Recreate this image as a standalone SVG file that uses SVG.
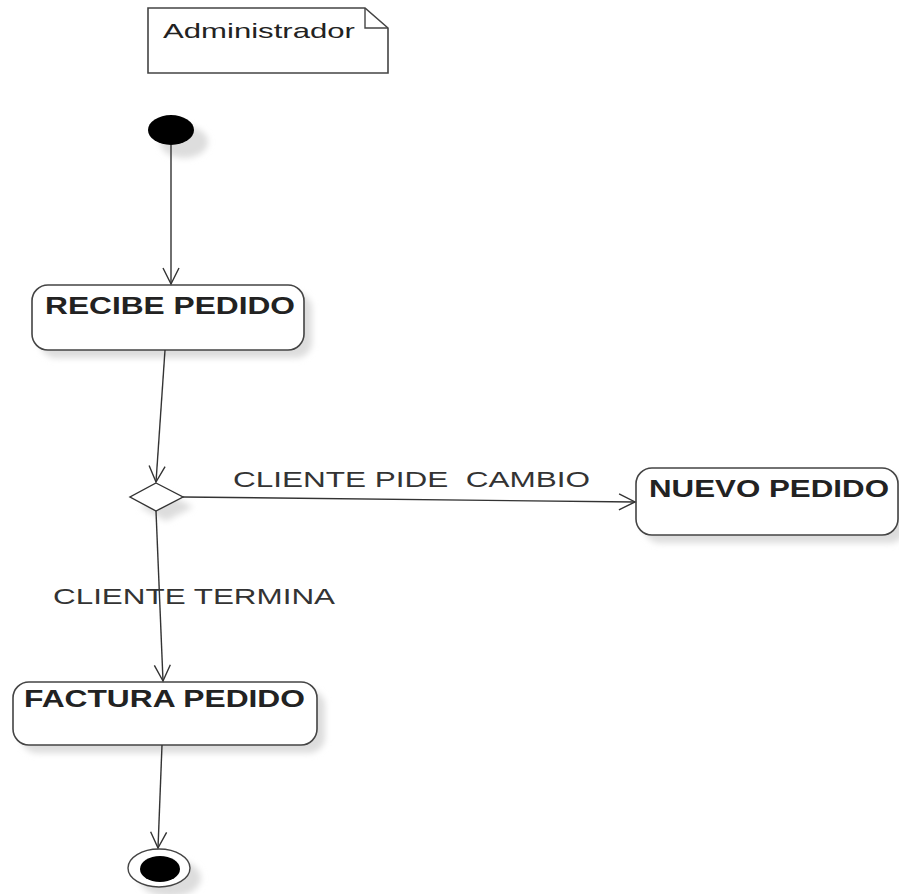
<svg xmlns="http://www.w3.org/2000/svg" width="899" height="894" viewBox="0 0 899 894">
  <style>
    .state { fill: #ffffff; stroke: #444444; stroke-width: 1.6; }
    .shadow { fill: #dddddd; filter: url(#soft); }
    .lbl { font-family: "Liberation Sans", Arial, sans-serif; fill: #222222; }
    .bold { font-weight: bold; font-size: 23px; }
    .plain { font-size: 22px; fill: #333333; }
    .edge { fill: none; stroke: #333333; stroke-width: 1.4; }
    .head { fill: none; stroke: #333333; stroke-width: 1.4; }
  </style>
  <defs>
    <filter id="soft" x="-20%" y="-20%" width="140%" height="140%">
      <feGaussianBlur stdDeviation="3"/>
    </filter>
    <marker id="open" viewBox="0 0 20 20" refX="18" refY="10" markerWidth="20" markerHeight="20" markerUnits="userSpaceOnUse" orient="auto">
      <path d="M2,2 L18,10 L2,18" class="head"/>
    </marker>
  </defs>

  <!-- note -->
  <g id="note">
    <path d="M148,8 L365,8 L388,28 L388,73 L148,73 Z" fill="#ffffff" stroke="#444444" stroke-width="1.6"/>
    <path d="M365,8 L365,28 L388,28" fill="none" stroke="#444444" stroke-width="1.4"/>
    <text class="lbl" x="163" y="38" font-size="21" fill="#333333" textLength="192" lengthAdjust="spacingAndGlyphs">Administrador</text>
  </g>

  <!-- initial pseudo-state -->
  <g id="start">
    <ellipse class="shadow" cx="184" cy="142" rx="24" ry="16"/>
    <ellipse cx="171" cy="130" rx="23" ry="15" fill="#000000"/>
  </g>

  <!-- RECIBE PEDIDO -->
  <g id="recibe">
    <rect class="shadow" x="40" y="293" width="272" height="65" rx="16"/>
    <rect class="state" x="32" y="285" width="272" height="65" rx="16"/>
    <text class="lbl bold" x="45" y="314" textLength="250" lengthAdjust="spacingAndGlyphs">RECIBE PEDIDO</text>
  </g>

  <!-- decision -->
  <g id="decision">
    <path class="shadow" d="M166,493 L193,507 L166,521 L140,507 Z"/>
    <path d="M156,483 L183,497 L156,511 L130,497 Z" fill="#ffffff" stroke="#333333" stroke-width="1.4"/>
  </g>

  <!-- NUEVO PEDIDO -->
  <g id="nuevo">
    <rect class="shadow" x="644" y="476" width="262" height="67" rx="16"/>
    <rect class="state" x="636" y="468" width="262" height="67" rx="16"/>
    <text class="lbl bold" x="649" y="497" textLength="240" lengthAdjust="spacingAndGlyphs">NUEVO PEDIDO</text>
  </g>

  <!-- FACTURA PEDIDO -->
  <g id="factura">
    <rect class="shadow" x="21" y="690" width="304" height="63" rx="16"/>
    <rect class="state" x="13" y="682" width="304" height="63" rx="16"/>
    <text class="lbl bold" x="24" y="707" textLength="281" lengthAdjust="spacingAndGlyphs">FACTURA PEDIDO</text>
  </g>

  <!-- final state -->
  <g id="end">
    <ellipse class="shadow" cx="170" cy="878" rx="31" ry="19"/>
    <ellipse cx="159" cy="868" rx="31" ry="19" fill="#ffffff" stroke="#444444" stroke-width="1.4"/>
    <ellipse cx="160" cy="869" rx="20" ry="13" fill="#000000"/>
  </g>

  <!-- transitions -->
  <g id="connectors">
    <line class="edge" x1="171" y1="145" x2="171" y2="284" marker-end="url(#open)"/>
    <line class="edge" x1="165" y1="350" x2="156" y2="482" marker-end="url(#open)"/>
    <line class="edge" x1="183" y1="497" x2="635" y2="502" marker-end="url(#open)"/>
    <line class="edge" x1="156" y1="511" x2="163" y2="681" marker-end="url(#open)"/>
    <line class="edge" x1="162" y1="745" x2="158" y2="848" marker-end="url(#open)"/>
    <text class="lbl plain" x="233" y="487" textLength="357" lengthAdjust="spacingAndGlyphs" xml:space="preserve">CLIENTE PIDE  CAMBIO</text>
    <text class="lbl plain" x="53" y="604" textLength="282" lengthAdjust="spacingAndGlyphs">CLIENTE TERMINA</text>
  </g>
</svg>
